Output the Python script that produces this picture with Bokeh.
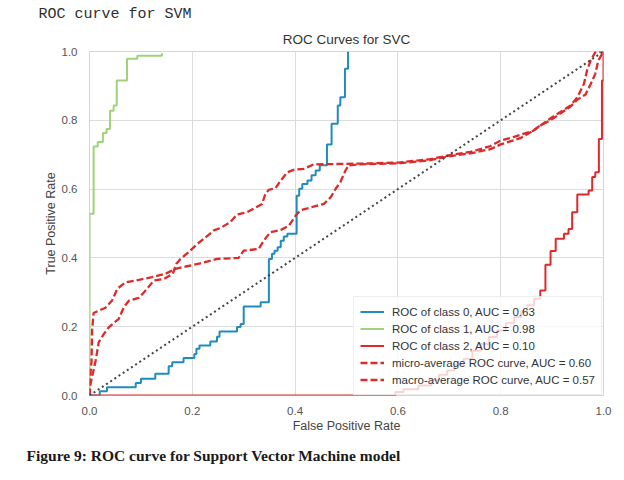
from bokeh.plotting import figure
from bokeh.models import Range1d, FixedTicker, Title
from bokeh.embed import file_html
from bokeh.resources import INLINE

# ---- data ----
class0_fpr = [0.000, 0.020, 0.020, 0.034, 0.034, 0.090, 0.090, 0.100, 0.100, 0.128, 0.128, 0.154, 0.154,
              0.161, 0.161, 0.183, 0.183, 0.204, 0.204, 0.208, 0.208, 0.214, 0.214, 0.235, 0.235, 0.248,
              0.248, 0.253, 0.253, 0.287, 0.287, 0.294, 0.294, 0.300, 0.300, 0.333, 0.333, 0.349, 0.349,
              0.355, 0.355, 0.360, 0.360, 0.366, 0.366, 0.372, 0.372, 0.378, 0.378, 0.385, 0.385, 0.403,
              0.403, 0.408, 0.408, 0.414, 0.414, 0.424, 0.424, 0.432, 0.432, 0.440, 0.440, 0.448, 0.448,
              0.462, 0.462, 0.471, 0.471, 0.483, 0.483, 0.488, 0.488, 0.497, 0.497, 0.503, 0.503]
class0_tpr = [0.000, 0.000, 0.012, 0.012, 0.024, 0.024, 0.036, 0.036, 0.049, 0.049, 0.063, 0.063, 0.085,
              0.085, 0.097, 0.097, 0.109, 0.109, 0.121, 0.121, 0.136, 0.136, 0.145, 0.145, 0.157, 0.157,
              0.171, 0.171, 0.186, 0.186, 0.199, 0.199, 0.208, 0.208, 0.259, 0.259, 0.271, 0.271, 0.397,
              0.397, 0.412, 0.412, 0.421, 0.421, 0.431, 0.431, 0.450, 0.450, 0.462, 0.462, 0.470, 0.470,
              0.581, 0.581, 0.601, 0.601, 0.615, 0.615, 0.625, 0.625, 0.640, 0.640, 0.654, 0.654, 0.669,
              0.669, 0.730, 0.730, 0.790, 0.790, 0.843, 0.843, 0.867, 0.867, 0.950, 0.950, 1.000]

class1_fpr = [0.000, 0.000, 0.008, 0.008, 0.016, 0.016, 0.026, 0.026, 0.033, 0.033, 0.040, 0.040, 0.047,
              0.047, 0.053, 0.053, 0.073, 0.073, 0.093, 0.093, 0.141, 0.141]
class1_tpr = [0.000, 0.528, 0.528, 0.724, 0.724, 0.737, 0.737, 0.763, 0.763, 0.775, 0.775, 0.828, 0.828,
              0.843, 0.843, 0.916, 0.916, 0.979, 0.979, 0.988, 0.988, 0.995]

class2_fpr = [0.000, 0.595, 0.595, 0.611, 0.611, 0.640, 0.640, 0.665, 0.665, 0.680, 0.680, 0.696, 0.696,
              0.710, 0.710, 0.728, 0.728, 0.745, 0.745, 0.761, 0.761, 0.777, 0.777, 0.793, 0.793, 0.810,
              0.810, 0.826, 0.826, 0.840, 0.840, 0.852, 0.852, 0.865, 0.865, 0.877, 0.877, 0.887, 0.887,
              0.897, 0.897, 0.907, 0.907, 0.923, 0.923, 0.932, 0.932, 0.939, 0.939, 0.949, 0.949, 0.971,
              0.971, 0.978, 0.978, 0.984, 0.984, 0.991, 0.991, 0.997, 0.997, 1.000, 1.000]
class2_tpr = [0.000, 0.000, 0.010, 0.010, 0.018, 0.018, 0.029, 0.029, 0.045, 0.045, 0.060, 0.060, 0.073,
              0.073, 0.090, 0.090, 0.107, 0.107, 0.130, 0.130, 0.150, 0.150, 0.170, 0.170, 0.189, 0.189,
              0.210, 0.210, 0.228, 0.228, 0.245, 0.245, 0.262, 0.262, 0.281, 0.281, 0.305, 0.305, 0.380,
              0.380, 0.420, 0.420, 0.456, 0.456, 0.470, 0.470, 0.484, 0.484, 0.533, 0.533, 0.584, 0.584,
              0.596, 0.596, 0.635, 0.635, 0.649, 0.649, 0.746, 0.746, 0.916, 0.916, 1.000]

micro_fpr = [0.000, 0.002, 0.012, 0.018, 0.028, 0.038, 0.057, 0.067, 0.077, 0.096, 0.106, 0.112, 0.125,
             0.145, 0.162, 0.169, 0.177, 0.193, 0.210, 0.226, 0.242, 0.255, 0.274, 0.287, 0.307, 0.336,
             0.342, 0.349, 0.362, 0.372, 0.385, 0.397, 0.417, 0.436, 0.527, 0.600, 0.637, 0.663, 0.702,
             0.741, 0.780, 0.800, 0.826, 0.864, 0.897, 0.916, 0.936, 0.949, 0.962, 0.968, 0.975, 0.985, 1.000]
micro_tpr = [0.000, 0.034, 0.102, 0.155, 0.179, 0.199, 0.223, 0.257, 0.276, 0.284, 0.300, 0.310, 0.334,
             0.339, 0.354, 0.383, 0.397, 0.417, 0.441, 0.460, 0.480, 0.487, 0.504, 0.526, 0.533, 0.557,
             0.586, 0.598, 0.603, 0.625, 0.649, 0.656, 0.659, 0.672, 0.674, 0.677, 0.683, 0.687, 0.699,
             0.708, 0.725, 0.741, 0.752, 0.770, 0.806, 0.824, 0.843, 0.867, 0.906, 0.945, 0.974, 1.000, 1.000]

macro_fpr = [0.000, 0.000, 0.004, 0.005, 0.008, 0.020, 0.031, 0.044, 0.054, 0.070, 0.096, 0.122, 0.148,
             0.167, 0.187, 0.213, 0.248, 0.290, 0.300, 0.329, 0.339, 0.352, 0.372, 0.388, 0.401, 0.410,
             0.436, 0.456, 0.469, 0.479, 0.488, 0.498, 0.504, 0.527, 0.600, 0.637, 0.663, 0.702, 0.741,
             0.780, 0.800, 0.838, 0.858, 0.877, 0.897, 0.916, 0.936, 0.949, 0.965, 0.975, 0.984, 0.990, 1.000]
macro_tpr = [0.000, 0.029, 0.100, 0.189, 0.240, 0.248, 0.255, 0.276, 0.310, 0.329, 0.336, 0.344, 0.354,
             0.368, 0.375, 0.383, 0.397, 0.400, 0.421, 0.426, 0.450, 0.475, 0.481, 0.494, 0.523, 0.538,
             0.549, 0.557, 0.576, 0.601, 0.620, 0.654, 0.669, 0.672, 0.675, 0.680, 0.684, 0.696, 0.704,
             0.716, 0.730, 0.748, 0.765, 0.785, 0.800, 0.820, 0.840, 0.860, 0.875, 0.905, 0.935, 0.974, 1.000]

diag_x = [0.0, 1.0]
diag_y = [0.0, 1.0]

ticks = [0.0, 0.2, 0.4, 0.6, 0.8, 1.0]
tick_labels = ["0.0", "0.2", "0.4", "0.6", "0.8", "1.0"]

legend_labels = ["ROC of class 0, AUC = 0.63",
                 "ROC of class 1, AUC = 0.98",
                 "ROC of class 2, AUC = 0.10",
                 "micro-average ROC curve, AUC = 0.60",
                 "macro-average ROC curve, AUC = 0.57"]

header_text = "ROC curve for SVM"
title_text = "ROC Curves for SVC"
caption_text = "Figure 9: ROC curve for Support Vector Machine model"

BLUE = "#1f8cc0"
GREEN = "#a1d17a"
RED = "#dd2a2a"
SANS = "Liberation Sans"

p = figure(width=624, height=480, x_range=Range1d(0, 1), y_range=Range1d(0, 1),
           output_backend="svg", toolbar_location=None, title=None,
           min_border_left=89, min_border_right=21, min_border_top=51, min_border_bottom=85)

p.background_fill_color = "white"
p.border_fill_color = "white"
p.outline_line_color = "#d4d4d4"
p.outline_line_width = 1

for ax in (p.xaxis, p.yaxis):
    ax.ticker = FixedTicker(ticks=ticks)
    ax.major_label_overrides = {t: l for t, l in zip(ticks, tick_labels)}
    ax.axis_line_color = None
    ax.major_tick_line_color = None
    ax.minor_tick_line_color = None
    ax.major_label_text_font = SANS
    ax.major_label_text_font_size = "11.5px"
    ax.major_label_text_color = "#555555"
    ax.axis_label_text_font = SANS
    ax.axis_label_text_font_size = "12.5px"
    ax.axis_label_text_color = "#444444"
    ax.axis_label_text_font_style = "normal"

p.xaxis.axis_label = "False Positive Rate"
p.yaxis.axis_label = "True Positive Rate"
p.xaxis.major_label_standoff = 5
p.yaxis.major_label_standoff = 6
p.xaxis.axis_label_standoff = 1
p.yaxis.axis_label_standoff = 1

p.xgrid.ticker = FixedTicker(ticks=ticks)
p.ygrid.ticker = FixedTicker(ticks=ticks)
p.grid.grid_line_color = "#dcdcdc"
p.grid.grid_line_width = 1

p.line(class0_fpr, class0_tpr, line_color=BLUE, line_width=2, legend_label=legend_labels[0])
p.line(class1_fpr, class1_tpr, line_color=GREEN, line_width=2, legend_label=legend_labels[1])
p.line(class2_fpr, class2_tpr, line_color=RED, line_width=2, legend_label=legend_labels[2])
p.line(micro_fpr, micro_tpr, line_color=RED, line_width=2.3, line_dash="7 3", legend_label=legend_labels[3])
p.line(macro_fpr, macro_tpr, line_color=RED, line_width=2.3, line_dash="7 3", legend_label=legend_labels[4])
p.line(diag_x, diag_y, line_color="#444444", line_width=2, line_dash="2 3")

lg = p.legend[0]
lg.location = (264, 0)
lg.margin = 0
lg.padding = 6
lg.spacing = 0
lg.glyph_width = 24
lg.glyph_height = 17
lg.label_height = 17
lg.label_standoff = 8
lg.label_text_font = SANS
lg.label_text_font_size = "11.5px"
lg.label_text_color = "#333333"
lg.border_line_color = "#dddddd"
lg.border_line_width = 1
lg.background_fill_color = "white"
lg.background_fill_alpha = 0.8

# titles: first added sits closest to the frame
p.add_layout(Title(text=title_text, align="center", text_font=SANS, text_font_size="13.5px",
                   text_font_style="normal", text_color="#333333", standoff=9), "above")
p.add_layout(Title(text=header_text, align="left", offset=-51, text_font="Liberation Mono",
                   text_font_size="15px", text_font_style="normal", text_color="#2f2f2f",
                   standoff=5), "above")
p.add_layout(Title(text=caption_text, align="left", offset=-63, text_font="Liberation Serif",
                   text_font_size="15.5px", text_font_style="bold", text_color="#1a1a1a",
                   standoff=18), "below")

open("out.html", "w").write(file_html(p, INLINE))
